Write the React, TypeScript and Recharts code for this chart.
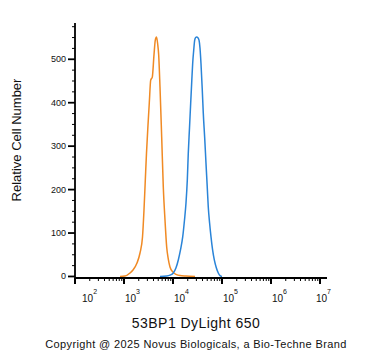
import React from 'react';
import { LineChart, Line, XAxis, YAxis } from 'recharts';

// Orange histogram (intensity, count)
const orangeX = [829, 1048, 1326, 1527, 1842, 2122, 2386, 2559, 2722, 2878, 3090, 3284, 3508, 3782, 4093, 4353, 4604, 4871, 5105, 5429, 5877, 6339, 6866, 7433, 8017, 8682, 10000, 11520, 13900, 18420, 28120];
const orangeY = [0, 1, 8, 15, 31, 54, 91, 153, 222, 284, 349, 400, 452, 459, 510, 544, 551, 535, 510, 436, 321, 206, 130, 68, 40, 22, 10, 5, 2, 1, 0];

// Blue histogram (intensity, count)
const blueX = [5429, 7433, 8682, 10140, 11520, 12830, 14220, 15780, 17170, 18420, 19590, 20510, 21720, 22960, 24210, 25230, 26430, 27730, 29040, 30470, 32070, 33960, 35560, 37240, 39430, 41510, 44350, 47120, 49890, 52480, 55850, 59670, 64300, 69690, 76560, 84000, 91000, 100000];
const blueY = [0, 1, 3, 8, 20, 38, 61, 91, 130, 169, 222, 284, 342, 399, 452, 491, 520, 544, 550, 551, 550, 544, 526, 491, 434, 376, 319, 261, 208, 160, 123, 91, 61, 38, 20, 8, 2, 0];

const xMajorTicks = [100, 1000, 10000, 100000, 1000000, 10000000];
const xTickExponents = ['2', '3', '4', '5', '6', '7'];
const xMinorMultipliers = [2, 3, 4, 5, 6, 7, 8, 9];
const yMajorTicks = [0, 100, 200, 300, 400, 500];
const yMinorTicks = [25, 50, 75, 125, 150, 175, 225, 250, 275, 325, 350, 375, 425, 450, 475, 525, 550, 575];

const xLabel = '53BP1 DyLight 650';
const yLabel = 'Relative Cell Number';
const copyright = 'Copyright @ 2025 Novus Biologicals, a Bio-Techne Brand';

const orangeData = orangeX.map((x, i) => ({ x, y: orangeY[i] }));
const blueData = blueX.map((x, i) => ({ x, y: blueY[i] }));

const xMinorTicks: number[] = [];
xMajorTicks.slice(0, -1).forEach((d) => xMinorMultipliers.forEach((m) => xMinorTicks.push(d * m)));
const xTicks = [...xMajorTicks, ...xMinorTicks].sort((a, b) => a - b);
const yTicks = [...yMajorTicks, ...yMinorTicks].sort((a, b) => a - b);

const FONT = '"Liberation Sans", Arial, sans-serif';

const YTick = (props: any) => {
  const { x, y, payload } = props;
  const v = payload.value;
  const major = yMajorTicks.includes(v);
  return (
    <g>
      <line x1={x - (major ? 7 : 3)} x2={x} y1={y} y2={y} stroke="#000" strokeWidth={major ? 1.8 : 1} />
      {major && (
        <text x={x - 9} y={y} dy={3} textAnchor="end" fontSize={9} fontFamily={FONT} fill="#111">
          {v}
        </text>
      )}
    </g>
  );
};

const XTick = (props: any) => {
  const { x, y, payload } = props;
  const v = payload.value;
  const idx = xMajorTicks.indexOf(v);
  const major = idx >= 0;
  let off = 1;
  if (idx === 0) off = 7;
  if (idx === xMajorTicks.length - 1) off = -4;
  return (
    <g>
      <line x1={x} x2={x} y1={y} y2={y + (major ? 6 : 3)} stroke="#000" strokeWidth={major ? 2 : 1} />
      {major && (
        <text x={x + off} y={y + 24} fontSize={10} fontFamily={FONT} fill="#111">
          10
          <tspan dy={-8} fontSize={7}>{xTickExponents[idx]}</tspan>
        </text>
      )}
    </g>
  );
};

export default function App() {
  return (
    <div style={{ position: 'absolute', left: 0, top: 0, width: 371, height: 351, background: '#fff' }}>
      <LineChart
        width={371}
        height={351}
        margin={{ top: 23, right: 44, bottom: 43, left: 15 }}
      >
        <XAxis
          dataKey="x"
          type="number"
          scale="log"
          domain={[100, 13900000]}
          allowDataOverflow
          ticks={xTicks}
          interval={0}
          tickSize={0}
          tickMargin={0}
          tickLine={false}
          tick={<XTick />}
          axisLine={{ stroke: '#000', strokeWidth: 1.8 }}
          height={30}
        />
        <YAxis
          type="number"
          domain={[-3.5, 583.5]}
          allowDataOverflow
          ticks={yTicks}
          interval={0}
          tickSize={0}
          tickMargin={0}
          tickLine={false}
          tick={<YTick />}
          axisLine={{ stroke: '#000', strokeWidth: 1.8 }}
          width={60}
        />
        <Line data={orangeData} dataKey="y" type="monotone" stroke="#F08A24" strokeWidth={1.5} dot={false} isAnimationActive={false} />
        <Line data={blueData} dataKey="y" type="monotone" stroke="#2A84D8" strokeWidth={1.5} dot={false} isAnimationActive={false} />
      </LineChart>
      <svg width={371} height={351} style={{ position: 'absolute', left: 0, top: 0, pointerEvents: 'none' }}>
        <text x={16} y={140} transform="rotate(-90 16 140)" dy={5} textAnchor="middle" fontSize={13} fontFamily={FONT} fill="#111">
          {yLabel}
        </text>
        <text x={196} y={328} textAnchor="middle" fontSize={14} letterSpacing={0.45} fontFamily={FONT} fill="#111">
          {xLabel}
        </text>
        <text x={196} y={348} textAnchor="middle" fontSize={11} letterSpacing={0.37} fontFamily={FONT} fill="#111">
          {copyright}
        </text>
      </svg>
    </div>
  );
}
